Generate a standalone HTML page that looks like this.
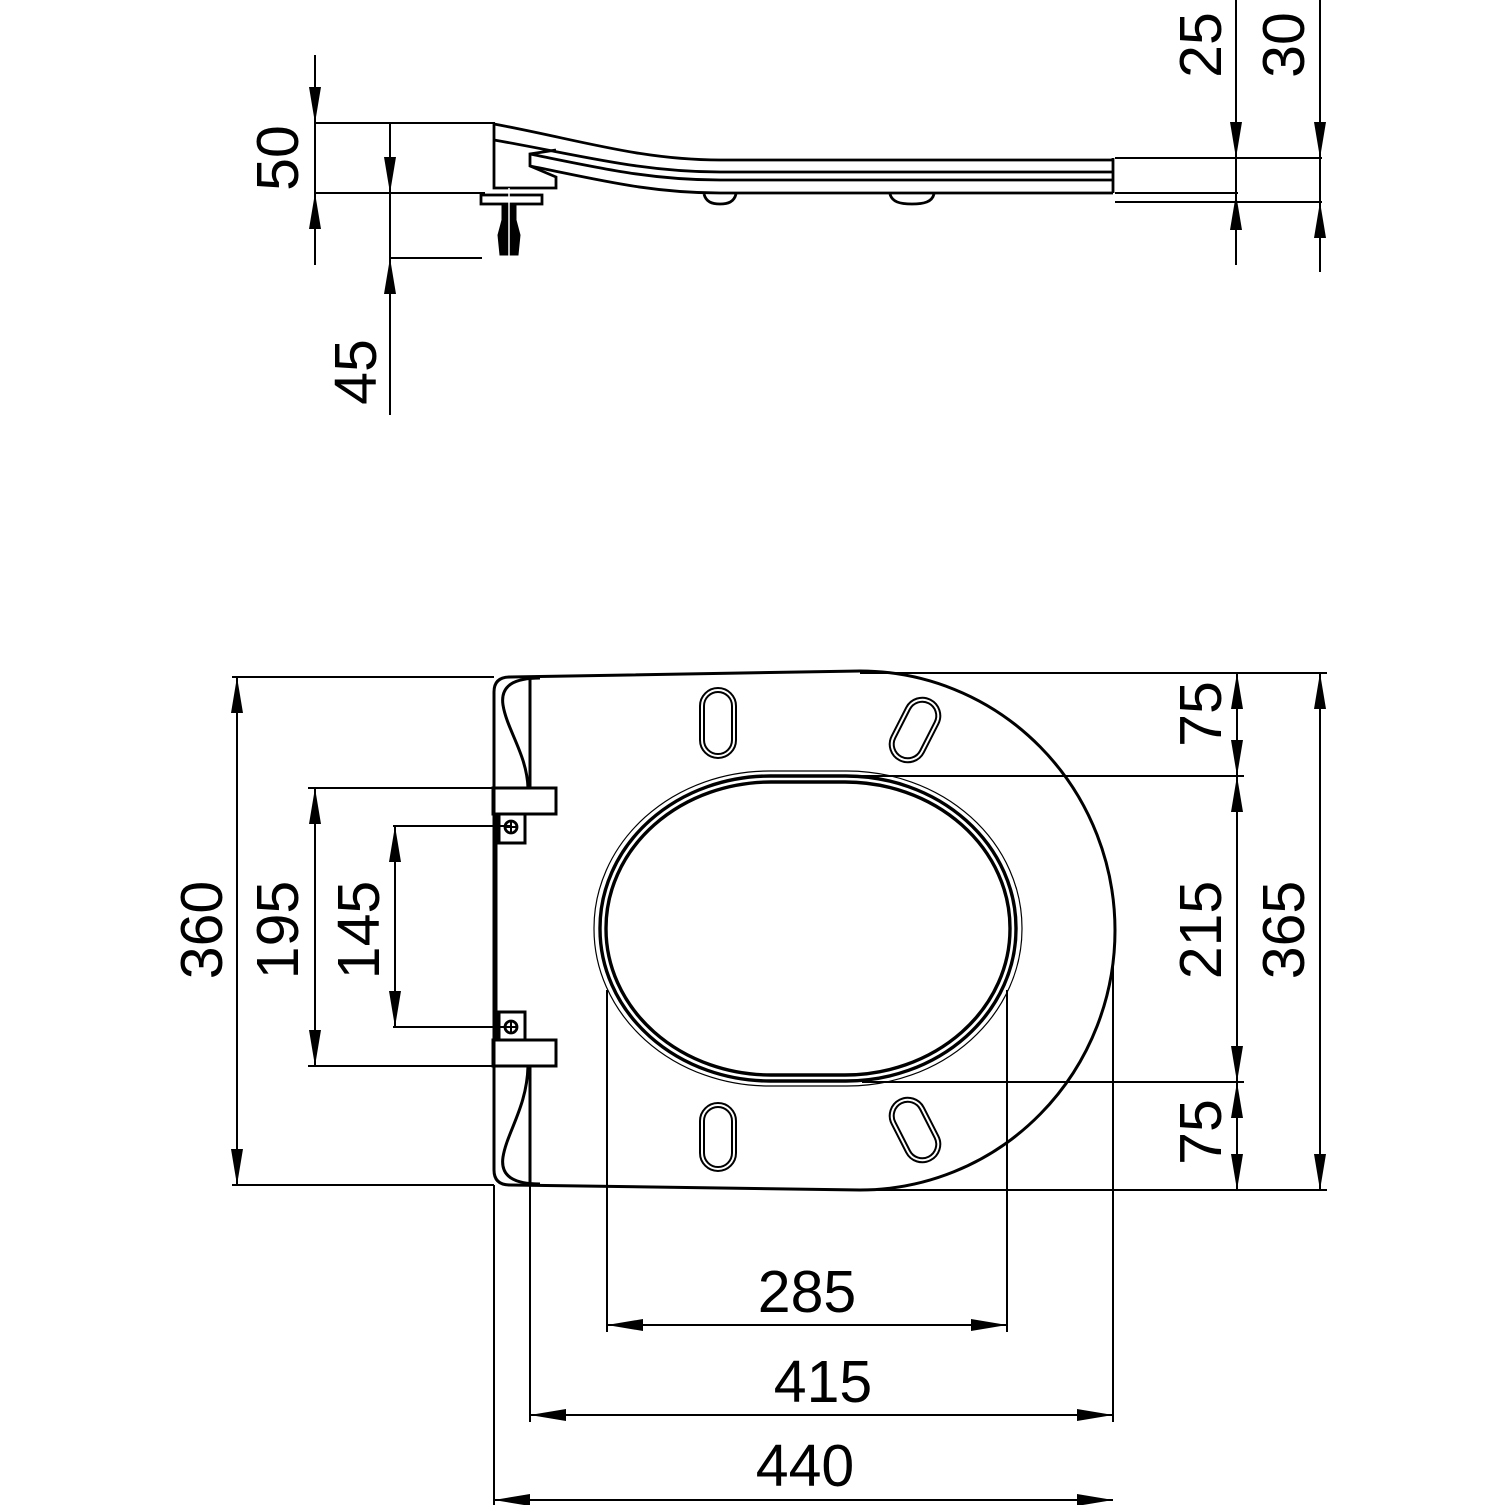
<!DOCTYPE html>
<html><head><meta charset="utf-8"><style>
html,body{margin:0;padding:0;background:#fff}
svg{display:block}
text{font-family:"Liberation Sans",Arial,sans-serif;font-size:59px;fill:#000}
</style></head><body>
<svg width="1505" height="1505" viewBox="0 0 1505 1505" xmlns="http://www.w3.org/2000/svg">
<defs>
<polygon id="ad" points="0,0 -6,-36 6,-36"/>
<polygon id="au" points="0,0 -6,36 6,36"/>
<polygon id="al" points="0,0 36,-6 36,6"/>
<polygon id="ar" points="0,0 -36,-6 -36,6"/>
</defs>
<g stroke="#000" fill="none" stroke-width="2">
<!-- ===== SIDE VIEW ===== -->
<line x1="315" y1="55" x2="315" y2="265"/>
<line x1="315" y1="123" x2="495" y2="123"/>
<line x1="315" y1="193" x2="485" y2="193"/>
<line x1="390" y1="123" x2="390" y2="415"/>
<line x1="390" y1="258" x2="482" y2="258"/>
<line x1="1236" y1="0" x2="1236" y2="265"/>
<line x1="1320" y1="0" x2="1320" y2="272"/>
<line x1="1115" y1="158" x2="1322" y2="158"/>
<line x1="1115" y1="193" x2="1238" y2="193"/>
<line x1="1115" y1="202" x2="1322" y2="202"/>
<g stroke-width="2.8">
<path d="M494,124 C580,140 640,160 720,160 L1113,160"/>
<path d="M494,140 C580,155 640,172 720,172 L1113,172"/>
<path d="M530,154 C600,168 650,180 720,180 L1113,180"/>
<path d="M530,166 C600,180 650,193 720,193 L1113,193"/>
<path d="M494,124 L494,188 L556,188 L556,177 L530,166 L530,154 L556,150"/>
<line x1="1113" y1="158" x2="1113" y2="193"/>
<rect x="481" y="195" width="61" height="9"/>
<path d="M704,194 C706,202 712,204 720,204 C728,204 734,202 736,194"/>
<path d="M890,194 C892,202 900,204 912,204 C924,204 932,202 934,194"/>
</g>
<path d="M502,204 L502,220 L498,235 L500,255 L518,255 L520,235 L516,220 L516,204 Z" fill="#000" stroke-width="1"/>
<line x1="509" y1="188" x2="509" y2="258" stroke="#fff" stroke-width="1.5"/>

<!-- ===== TOP VIEW ===== -->
<line x1="232" y1="677" x2="494" y2="677"/>
<line x1="232" y1="1185" x2="494" y2="1185"/>
<line x1="237" y1="677" x2="237" y2="1185"/>
<line x1="308" y1="788" x2="493" y2="788"/>
<line x1="308" y1="1066" x2="493" y2="1066"/>
<line x1="315" y1="788" x2="315" y2="1066"/>
<line x1="393" y1="826" x2="510" y2="826"/>
<line x1="393" y1="1027" x2="510" y2="1027"/>
<line x1="395" y1="826" x2="395" y2="1027"/>
<line x1="860" y1="673" x2="1327" y2="673"/>
<line x1="862" y1="776" x2="1244" y2="776"/>
<line x1="862" y1="1082" x2="1244" y2="1082"/>
<line x1="860" y1="1190" x2="1327" y2="1190"/>
<line x1="1237" y1="673" x2="1237" y2="1190"/>
<line x1="1320" y1="673" x2="1320" y2="1190"/>
<line x1="607" y1="990" x2="607" y2="1332"/>
<line x1="1007" y1="990" x2="1007" y2="1332"/>
<line x1="607" y1="1325" x2="1007" y2="1325"/>
<line x1="530" y1="1185" x2="530" y2="1422"/>
<line x1="1113" y1="960" x2="1113" y2="1422"/>
<line x1="530" y1="1415" x2="1113" y2="1415"/>
<line x1="494" y1="1185" x2="494" y2="1505"/>
<line x1="494" y1="1500" x2="1113" y2="1500"/>

<g stroke-width="3">
<path d="M494,692 Q494,677 510,677 L860,671 A255,259.5 0 0 1 860,1190 L510,1185 Q494,1185 494,1170 Z"/>
<line x1="530" y1="679" x2="530" y2="788"/>
<line x1="530" y1="1066" x2="530" y2="1183"/>
<path d="M540,678 C515,678 500,685 503,705 C507,730 527,755 528,788"/>
<path d="M540,1184 C515,1184 500,1177 503,1157 C507,1132 527,1107 528,1066"/>
<rect x="493" y="788" width="63" height="26"/>
<rect x="493" y="1040" width="63" height="26"/>
<rect x="499" y="814" width="26" height="29"/>
<rect x="499" y="1012" width="26" height="28"/>
<line x1="496" y1="814" x2="496" y2="1040"/>
</g>
<circle cx="511" cy="827" r="6" stroke-width="2.8"/>
<circle cx="511" cy="1027" r="6" stroke-width="2.8"/>
<line x1="505" y1="827" x2="517" y2="827"/><line x1="511" y1="821" x2="511" y2="833"/>
<line x1="505" y1="1027" x2="517" y2="1027"/><line x1="511" y1="1021" x2="511" y2="1033"/>

<!-- opening -->
<rect x="594" y="771" width="428" height="315" rx="175" ry="157" stroke-width="1.2"/>
<rect x="600" y="776" width="416" height="305" rx="170" ry="152" stroke-width="3.4"/>
<rect x="606" y="782" width="404" height="293" rx="165" ry="146" stroke-width="3.4"/>

<!-- slots -->
<g stroke-width="2">
<rect x="700" y="688" width="36" height="70" rx="18"/>
<rect x="704" y="692" width="28" height="62" rx="14"/>
<rect x="700" y="1103" width="36" height="68" rx="18"/>
<rect x="704" y="1107" width="28" height="60" rx="14"/>
<g transform="rotate(27 915 730)"><rect x="897" y="696" width="36" height="68" rx="18"/><rect x="901" y="700" width="28" height="60" rx="14"/></g>
<g transform="rotate(-27 915 1130)"><rect x="897" y="1096" width="36" height="68" rx="18"/><rect x="901" y="1100" width="28" height="60" rx="14"/></g>
</g>
</g>

<g fill="#000">
<use href="#ad" x="315" y="123"/><use href="#au" x="315" y="193"/>
<use href="#ad" x="390" y="193"/><use href="#au" x="390" y="258"/>
<use href="#ad" x="1236" y="158"/><use href="#au" x="1236" y="194"/>
<use href="#ad" x="1320" y="158"/><use href="#au" x="1320" y="202"/>
<use href="#au" x="237" y="677"/><use href="#ad" x="237" y="1185"/>
<use href="#au" x="315" y="788"/><use href="#ad" x="315" y="1066"/>
<use href="#au" x="395" y="826"/><use href="#ad" x="395" y="1027"/>
<use href="#au" x="1237" y="673"/><use href="#ad" x="1237" y="776"/>
<use href="#au" x="1237" y="776"/><use href="#ad" x="1237" y="1082"/>
<use href="#au" x="1237" y="1082"/><use href="#ad" x="1237" y="1190"/>
<use href="#au" x="1320" y="673"/><use href="#ad" x="1320" y="1190"/>
<use href="#al" x="607" y="1325"/><use href="#ar" x="1007" y="1325"/>
<use href="#al" x="530" y="1415"/><use href="#ar" x="1113" y="1415"/>
<use href="#al" x="494" y="1500"/><use href="#ar" x="1113" y="1500"/>
</g>

<g text-anchor="middle">
<text transform="translate(298,158) rotate(-90)">50</text>
<text transform="translate(376,372) rotate(-90)">45</text>
<text transform="translate(1221,45) rotate(-90)">25</text>
<text transform="translate(1304,45) rotate(-90)">30</text>
<text transform="translate(222,930) rotate(-90)">360</text>
<text transform="translate(298,930) rotate(-90)">195</text>
<text transform="translate(379,930) rotate(-90)">145</text>
<text transform="translate(1221,714) rotate(-90)">75</text>
<text transform="translate(1221,930) rotate(-90)">215</text>
<text transform="translate(1221,1132) rotate(-90)">75</text>
<text transform="translate(1304,930) rotate(-90)">365</text>
<text x="807" y="1312">285</text>
<text x="823" y="1402">415</text>
<text x="805" y="1486">440</text>
</g>
</svg>
</body></html>
